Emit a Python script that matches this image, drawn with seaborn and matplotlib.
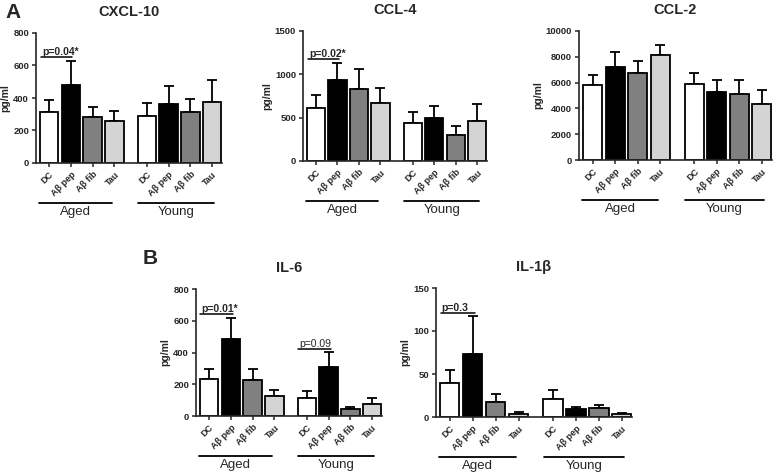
import matplotlib
matplotlib.use("Agg")
import matplotlib.pyplot as plt
import matplotlib.transforms as mtransforms
import numpy as np
import pandas as pd
import seaborn as sb

# data (mean and upper SEM)
treatments = ["DC", "Aβ pep", "Aβ fib", "Tau"]
groups = ["Aged", "Young"]
positions = [0, 1, 2, 3, 4.5, 5.5, 6.5, 7.5]
bar_colors = {"DC": "white", "Aβ pep": "black", "Aβ fib": "#808080", "Tau": "#d4d4d4"}

cxcl10_mean = [315, 480, 285, 260, 290, 365, 314, 373]
cxcl10_top = [387, 629, 346, 320, 367, 475, 394, 509]
ccl4_mean = [613, 933, 825, 667, 443, 494, 305, 467]
ccl4_top = [760, 1134, 1060, 845, 567, 632, 409, 663]
ccl2_mean = [5850, 7240, 6780, 8140, 5870, 5280, 5100, 4330]
ccl2_top = [6620, 8400, 7650, 8940, 6720, 6210, 6210, 5440]
il6_mean = [232, 484, 228, 128, 113, 310, 42, 73]
il6_top = [299, 618, 297, 161, 157, 404, 57, 115]
il1b_mean = [40, 73, 18, 4, 21, 9, 10, 3]
il1b_top = [55, 117, 27, 6, 31, 11.5, 13.5, 5]

sb.set_style("ticks")
plt.rcParams['font.family'] = ['Liberation Sans', 'DejaVu Sans']
plt.rcParams['axes.linewidth'] = 1.2

fig = plt.figure(figsize=(7.78, 4.73), dpi=100)
W, H = 778, 473


def add_axes(left, right, top, bottom):
    return fig.add_axes([left / W, (H - bottom) / H, (right - left) / W, (bottom - top) / H])


def panel(ax, title, mean, top, yticks, pval=None):
    df = pd.DataFrame({
        "pos": positions,
        "value": mean,
        "treat": treatments * 2,
    })
    sb.barplot(data=df, x="pos", y="value", hue="treat", palette=bar_colors,
               native_scale=True, dodge=False, width=0.85, errorbar=None,
               edgecolor="black", linewidth=1.3, legend=False, ax=ax, zorder=2)
    err = np.array(top) - np.array(mean)
    ax.errorbar(positions, mean, yerr=[np.zeros(len(err)), err], fmt="none",
                ecolor="black", elinewidth=1.3, capsize=3.5, capthick=1.3, zorder=1)

    ax.set_xlim(-0.6, 7.95)
    ax.set_ylim(0, yticks[-1])
    ax.set_yticks(yticks)
    ax.set_yticklabels([str(t) for t in yticks], fontsize=6.8, fontweight="bold")
    ax.set_xticks(positions)
    ax.set_xticklabels(treatments * 2, rotation=45, ha="right", rotation_mode="anchor",
                       fontsize=6.5, fontweight="bold")
    ax.tick_params(axis="both", length=3, width=1.1, pad=2)
    ax.set_xlabel("")
    ax.set_ylabel("pg/ml", fontsize=7.5, fontweight="bold", labelpad=2)
    ax.set_title(title, fontsize=10.5, fontweight="bold", pad=12)
    sb.despine(ax=ax)

    # group lines and labels under tick labels
    line_tr = ax.get_xaxis_transform() + mtransforms.ScaledTranslation(0, -0.40, fig.dpi_scale_trans)
    text_tr = ax.get_xaxis_transform() + mtransforms.ScaledTranslation(0, -0.49, fig.dpi_scale_trans)
    for name, (x0, x1) in zip(groups, [(-0.45, 2.9), (4.1, 7.6)]):
        ax.plot([x0, x1], [0, 0], color="black", lw=1.3, transform=line_tr, clip_on=False)
        ax.text((x0 + x1) / 2, 0, name, transform=text_tr, ha="center", va="center",
                fontsize=9.5, clip_on=False)

    if pval is not None:
        for x0, x1, y, label, weight in pval:
            ax.plot([x0, x1], [y, y], color="black", lw=1.1, zorder=3)
            ax.text(x0 + 0.05, y, label, ha="left", va="bottom", fontsize=7.5,
                    fontweight=weight)


ax1 = add_axes(36, 222, 33, 163)
panel(ax1, "CXCL-10", cxcl10_mean, cxcl10_top, [0, 200, 400, 600, 800],
      [(-0.35, 1.05, 652, "p=0.04*", "bold")])

ax2 = add_axes(303, 487, 31, 161)
panel(ax2, "CCL-4", ccl4_mean, ccl4_top, [0, 500, 1000, 1500],
      [(-0.35, 1.05, 1176, "p=0.02*", "bold")])

ax3 = add_axes(579, 772, 31, 160)
panel(ax3, "CCL-2", ccl2_mean, ccl2_top, [0, 2000, 4000, 6000, 8000, 10000])

ax4 = add_axes(196, 382, 289, 416)
panel(ax4, "IL-6", il6_mean, il6_top, [0, 200, 400, 600, 800],
      [(-0.4, 1.1, 645, "p=0.01*", "bold"), (4.1, 5.6, 425, "p=0.09", "normal")])

ax5 = add_axes(436, 632, 288, 417)
panel(ax5, "IL-1β", il1b_mean, il1b_top, [0, 50, 100, 150],
      [(-0.4, 1.1, 121, "p=0.3", "bold")])

fig.text(5 / W, 1 - 12 / H, "A", fontsize=15, fontweight="bold", va="center", ha="left")
fig.text(143 / W, 1 - 258 / H, "B", fontsize=15, fontweight="bold", va="center", ha="left")

fig.savefig("out.png", dpi=100)
